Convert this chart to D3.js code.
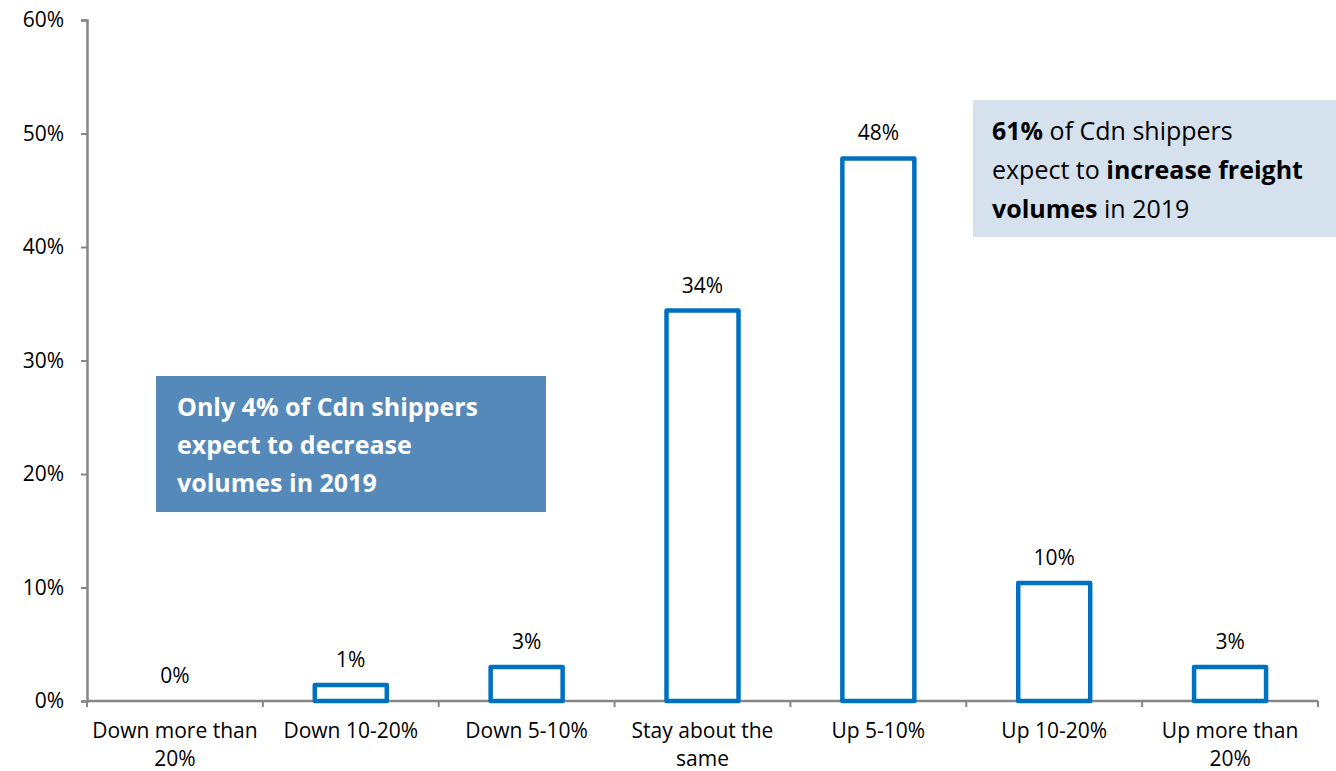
<!DOCTYPE html>
<html><head><meta charset="utf-8">
<script src="https://cdn.jsdelivr.net/npm/d3@7"></script>
<style>body{margin:0;background:#fff}svg{display:block;font-family:"Open Sans",Lato,sans-serif}</style>
</head><body><svg id="c" width="1336" height="771"></svg>
<script>
const categories = ["Down more than 20%","Down 10-20%","Down 5-10%","Stay about the same","Up 5-10%","Up 10-20%","Up more than 20%"];
const values = [0, 1.4, 3.0, 34.4, 47.8, 10.4, 3.0];
const yTicks = [0,10,20,30,40,50,60];

const FONT = '"Open Sans"';
const svg = d3.select("#c");
const m = {l:87, r:18, t:20, b:70};
const W = 1336, H = 771;
const x = d3.scaleBand().domain(categories).range([m.l, W-m.r]).paddingInner(0).paddingOuter(0);
const y = d3.scaleLinear().domain([0,60]).range([H-m.b, m.t]);
const axisCol = "#868686";

// y axis
const ya = svg.append("g").attr("transform",`translate(${m.l},0)`)
  .call(d3.axisLeft(y).tickValues(yTicks).tickFormat(d=>d+"%").tickSize(6).tickPadding(17));
ya.select(".domain").attr("stroke",axisCol).attr("stroke-width",2.5);
ya.selectAll(".tick line").attr("stroke",axisCol).attr("stroke-width",2);
ya.selectAll(".tick text").attr("font-size",21).attr("fill","#000").attr("font-family",FONT);

// x axis
const xa = svg.append("g").attr("transform",`translate(0,${y(0)})`);
xa.append("line").attr("x1",m.l).attr("x2",W-m.r).attr("stroke",axisCol).attr("stroke-width",2.5);
const bounds = categories.map(c=>x(c)).concat([x(categories[categories.length-1])+x.bandwidth()]);
xa.selectAll("line.tk").data(bounds).join("line").attr("class","tk")
  .attr("x1",d=>d).attr("x2",d=>d).attr("y1",0).attr("y2",6).attr("stroke",axisCol).attr("stroke-width",2);

// x labels with wrapping
function wrapLines(text, maxW, fs){
  const words = text.split(" "); const lines=[]; let cur="";
  const ctx = document.createElement("canvas").getContext("2d");
  ctx.font = fs+"px "+FONT;
  words.forEach(w=>{const t=cur?cur+" "+w:w; if(ctx.measureText(t).width>maxW && cur){lines.push(cur);cur=w;} else cur=t;});
  lines.push(cur); return lines;
}
categories.forEach(c=>{
  const lines = wrapLines(c, 172, 21);
  const t = svg.append("text").attr("text-anchor","middle").attr("font-size",21).attr("fill","#000");
  lines.forEach((ln,i)=>t.append("tspan").attr("x",x(c)+x.bandwidth()/2).attr("y",y(0)+37+i*28).text(ln));
});

// bars
const bw = 72;
svg.selectAll("rect.bar").data(values.map((v,i)=>({c:categories[i],v}))).join("rect").attr("class","bar")
  .filter(d=>d.v>0)
  .attr("x",d=>x(d.c)+x.bandwidth()/2-bw/2).attr("width",bw)
  .attr("y",d=>y(d.v)).attr("height",d=>y(0)-y(d.v))
  .attr("fill","#fff").attr("stroke","#0070C0").attr("stroke-width",4.5).attr("stroke-linejoin","round");
svg.selectAll("text.val").data(values.map((v,i)=>({c:categories[i],v}))).join("text").attr("class","val")
  .attr("x",d=>x(d.c)+x.bandwidth()/2).attr("y",d=>y(d.v)-18)
  .attr("text-anchor","middle").attr("font-size",21).attr("fill","#000").text(d=>Math.round(d.v)+"%");

// annotation boxes
const b1 = svg.append("g");
b1.append("rect").attr("x",156).attr("y",376).attr("width",390).attr("height",136).attr("fill","#5589BA");
const l1 = ["Only 4% of Cdn shippers","expect to decrease","volumes in 2019"];
l1.forEach((s,i)=>b1.append("text").attr("x",177).attr("y",416+i*38).attr("font-size",25).attr("font-weight","bold").attr("fill","#fff").text(s));

const b2 = svg.append("g");
b2.append("rect").attr("x",973).attr("y",100).attr("width",363).attr("height",137).attr("fill","#D5E1EC");
const l2 = [[["61%",true],[" of Cdn shippers",false]],[["expect to ",false],["increase freight",true]],[["volumes",true],[" in 2019",false]]];
l2.forEach((parts,i)=>{
  const t=b2.append("text").attr("x",992).attr("y",140+i*39).attr("font-size",25).attr("fill","#000");
  parts.forEach(p=>t.append("tspan").attr("font-weight",p[1]?"bold":"normal").text(p[0]));
});
</script></body></html>
